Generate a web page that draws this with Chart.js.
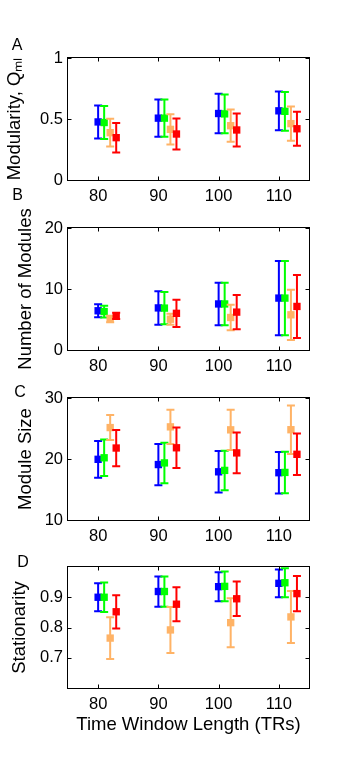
<!DOCTYPE html>
<html><head><meta charset="utf-8">
<script src="https://cdn.jsdelivr.net/npm/chart.js@4.4.1/dist/chart.umd.min.js"></script>
<style>
html,body{margin:0;padding:0;background:#fff;overflow:hidden;width:341px;height:773px}
canvas{position:absolute;left:0;top:0}
</style>
</head><body>
<canvas id="cA" width="341" height="773"></canvas>
<canvas id="cB" width="341" height="773"></canvas>
<canvas id="cC" width="341" height="773"></canvas>
<canvas id="cD" width="341" height="773"></canvas>
<script>
// ---------- DATA ----------
const windowLengths = [80, 90, 100, 110];

// A: Modularity (mean, error half-width)
const modBlue = [0.476, 0.507, 0.545, 0.567];
const modBlueErr = [0.135, 0.153, 0.162, 0.159];
const modGreen = [0.471, 0.507, 0.542, 0.563];
const modGreenErr = [0.135, 0.153, 0.158, 0.159];
const modOrange = [0.388, 0.415, 0.445, 0.462];
const modOrangeErr = [0.114, 0.124, 0.132, 0.140];
const modRed = [0.347, 0.377, 0.410, 0.420];
const modRedErr = [0.121, 0.127, 0.136, 0.140];
const modTicks = [0, 0.5, 1];

// B: Number of Modules
const numBlue = [6.43, 6.90, 7.55, 8.51];
const numBlueErr = [1.05, 2.75, 3.49, 6.09];
const numGreen = [6.30, 6.87, 7.55, 8.51];
const numGreenErr = [0.97, 2.63, 3.49, 6.09];
const numOrange = [5.08, 5.05, 5.33, 5.77];
const numOrangeErr = [0.52, 0.90, 2.09, 4.12];
const numRed = [5.60, 6.01, 6.21, 7.14];
const numRedErr = [0.50, 2.22, 2.80, 5.16];
const numTicks = [0, 10, 20];

// C: Module Size
const sizeBlue = [19.95, 19.09, 17.90, 17.75];
const sizeBlueErr = [3.02, 3.38, 3.40, 3.40];
const sizeGreen = [20.20, 19.36, 18.13, 17.80];
const sizeGreenErr = [3.00, 3.32, 3.24, 3.40];
const sizeOrange = [25.15, 25.27, 24.78, 24.80];
const sizeOrangeErr = [2.05, 2.80, 3.30, 3.98];
const sizeRed = [21.80, 21.84, 21.00, 20.77];
const sizeRedErr = [2.97, 3.32, 3.33, 3.41];
const sizeTicks = [10, 20, 30];

// D: Stationarity
const statBlue = [0.900, 0.919, 0.935, 0.946];
const statBlueErr = [0.046, 0.050, 0.048, 0.046];
const statGreen = [0.900, 0.919, 0.936, 0.948];
const statGreenErr = [0.049, 0.050, 0.049, 0.048];
const statOrange = [0.765, 0.792, 0.816, 0.835];
const statOrangeErr = [0.069, 0.076, 0.081, 0.086];
const statRed = [0.852, 0.877, 0.895, 0.912];
const statRedErr = [0.055, 0.056, 0.057, 0.058];
const statTicks = [0.7, 0.8, 0.9];

// ---------- STYLE / LAYOUT ----------
const FONT = "'Liberation Sans', Arial, Helvetica, sans-serif";
const COLORS = ['#0000FF', '#00FF00', '#FFB366', '#FF0000'];

const errorBarPlugin = {
  id: 'errorBars',
  beforeDatasetDraw(chart, args) {
    const ds = chart.data.datasets[args.index];
    const ys = chart.scales.y;
    const ctx = chart.ctx;
    ctx.save();
    ctx.strokeStyle = ds.borderColor;
    ctx.lineWidth = 2;
    ctx.lineCap = 'butt';
    args.meta.data.forEach((pt, i) => {
      const d = ds.data[i];
      const x = pt.x;
      const yHi = ys.getPixelForValue(d.y + d.err);
      const yLo = ys.getPixelForValue(d.y - d.err);
      const cw = 4;
      ctx.beginPath();
      ctx.moveTo(x, yHi); ctx.lineTo(x, yLo);
      ctx.moveTo(x - cw, yHi); ctx.lineTo(x + cw, yHi);
      ctx.moveTo(x - cw, yLo); ctx.lineTo(x + cw, yLo);
      ctx.stroke();
    });
    ctx.restore();
  }
};

const framePlugin = {
  id: 'frame',
  afterDatasetsDraw(chart, args, opts) {
    const ctx = chart.ctx;
    const {left, right, top, bottom} = chart.chartArea;
    ctx.save();
    ctx.strokeStyle = '#000';
    ctx.lineWidth = 1;
    const L = Math.round(left) - 0.5, R = Math.round(right) + 0.5;
    const T = Math.round(top) - 0.5, B = Math.round(bottom) + 0.5;
    ctx.strokeRect(L, T, R - L, B - T);
    const tl = 4;
    ctx.beginPath();
    chart.scales.y.ticks.forEach(t => {
      const p = Math.round(chart.scales.y.getPixelForValue(t.value)) + 0.5;
      ctx.moveTo(L, p); ctx.lineTo(L + tl, p);
      ctx.moveTo(R, p); ctx.lineTo(R - tl, p);
    });
    chart.scales.x.ticks.forEach(t => {
      const p = Math.round(chart.scales.x.getPixelForValue(t.value)) + 0.5;
      ctx.moveTo(p, B); ctx.lineTo(p, B - tl);
      ctx.moveTo(p, T); ctx.lineTo(p, T + tl);
    });
    ctx.stroke();
    // panel letter
    if (opts && opts.letter) {
      ctx.fillStyle = '#000';
      ctx.font = '16px ' + FONT;
      ctx.textAlign = 'center';
      ctx.textBaseline = 'middle';
      ctx.fillText(opts.letter, opts.lx, opts.ly);
    }
    ctx.restore();
  }
};

function makePanel(id, cfg) {
  const names = ['Blue series', 'Green series', 'Orange series', 'Red series'];
  const datasets = cfg.series.map((s, j) => ({
    label: names[j],
    data: windowLengths.map((w, i) => ({x: w + j, y: s[0][i], err: s[1][i]})),
    backgroundColor: COLORS[j],
    borderColor: COLORS[j],
    pointStyle: 'rect',
    pointRadius: 5.2,
    pointBorderWidth: 0,
    pointHoverRadius: 5.2,
    showLine: false,
    order: 4 - j
  }));
  const xScaleHeight = cfg.xTitle ? 50 : 30;
  return new Chart(document.getElementById(id), {
    type: 'scatter',
    data: {datasets},
    options: {
      responsive: false,
      animation: false,
      devicePixelRatio: 1,
      events: [],
      layout: {padding: {top: cfg.top, left: 0, right: 32, bottom: 773 - cfg.bottom - xScaleHeight}},
      plugins: {
        legend: {display: false},
        tooltip: {enabled: false},
        frame: {letter: cfg.letter, lx: cfg.lx, ly: cfg.ly}
      },
      scales: {
        x: {
          type: 'linear', min: 75, max: 115,
          afterBuildTicks: s => { s.ticks = windowLengths.map(v => ({value: v})); },
          afterFit: s => { s.height = xScaleHeight; },
          grid: {display: false, drawTicks: false},
          border: {display: false},
          ticks: {font: {family: FONT, size: 16.5}, color: '#000', padding: 7, maxRotation: 0, callback: v => String(v)},
          title: cfg.xTitle ? {display: true, text: cfg.xTitle, color: '#000',
            font: {family: FONT, size: 18.5}, padding: {top: 0, bottom: 2}} : {display: false}
        },
        y: {
          type: 'linear', min: cfg.yMin, max: cfg.yMax,
          afterBuildTicks: s => { s.ticks = cfg.yTicks.map(v => ({value: v})); },
          afterFit: s => { s.width = 68; },
          grid: {display: false, drawTicks: false},
          border: {display: false},
          ticks: {font: {family: FONT, size: 16.5}, color: '#000', padding: 5, callback: v => String(v)},
          title: {display: true, text: cfg.yTitle, color: '#000',
            font: {family: FONT, size: 18.5}, padding: {top: cfg.titlePad, bottom: 0}}
        }
      }
    },
    plugins: [errorBarPlugin, framePlugin]
  });
}

makePanel('cA', {
  letter: 'A', lx: 17, ly: 46, top: 58, bottom: 180,
  yMin: 0, yMax: 1, yTicks: modTicks, yTitle: 'Modularity, Q\u2098\u2097', titlePad: 4,
  series: [[modBlue, modBlueErr], [modGreen, modGreenErr], [modOrange, modOrangeErr], [modRed, modRedErr]]
});
makePanel('cB', {
  letter: 'B', lx: 17.5, ly: 196, top: 228, bottom: 350,
  yMin: 0, yMax: 20, yTicks: numTicks, yTitle: 'Number of Modules', titlePad: 15,
  series: [[numBlue, numBlueErr], [numGreen, numGreenErr], [numOrange, numOrangeErr], [numRed, numRedErr]]
});
makePanel('cC', {
  letter: 'C', lx: 20, ly: 393, top: 398, bottom: 520,
  yMin: 10, yMax: 30, yTicks: sizeTicks, yTitle: 'Module Size', titlePad: 15,
  series: [[sizeBlue, sizeBlueErr], [sizeGreen, sizeGreenErr], [sizeOrange, sizeOrangeErr], [sizeRed, sizeRedErr]]
});
makePanel('cD', {
  letter: 'D', lx: 23, ly: 563, top: 567, bottom: 688,
  yMin: 0.6, yMax: 1.0, yTicks: statTicks, yTitle: 'Stationarity', titlePad: 9,
  xTitle: 'Time Window Length (TRs)',
  series: [[statBlue, statBlueErr], [statGreen, statGreenErr], [statOrange, statOrangeErr], [statRed, statRedErr]]
});
</script>
</body></html>
